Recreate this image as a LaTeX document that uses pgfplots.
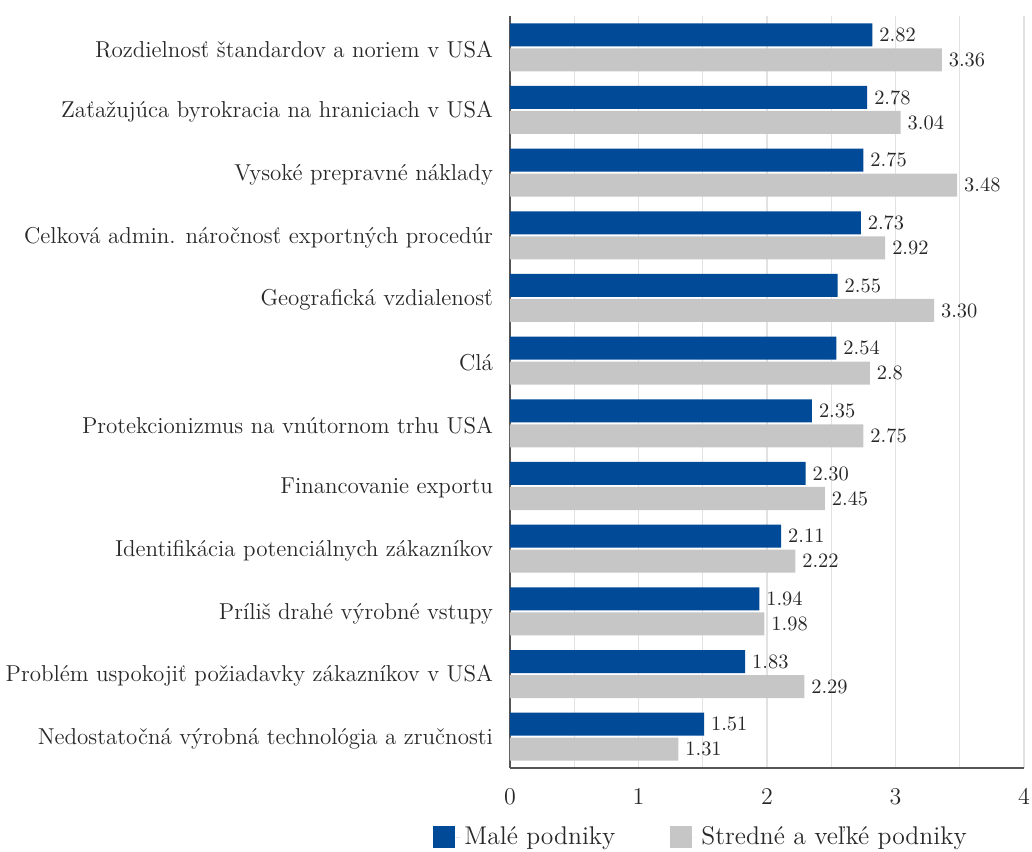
\documentclass[border=0pt]{standalone}
\usepackage{pgfplots}
\pgfplotsset{compat=1.18}
\definecolor{cblue}{RGB}{0,74,152}
\definecolor{cgray}{RGB}{198,198,198}
\definecolor{axgray}{RGB}{85,85,85}
\definecolor{gridc}{RGB}{226,226,226}
\definecolor{txt}{RGB}{40,40,40}
\pgfplotstableread{
x y lab
1.51 0 1.51
1.83 1 1.83
1.94 2 1.94
2.11 3 2.11
2.30 4 2.30
2.35 5 2.35
2.54 6 2.54
2.55 7 2.55
2.73 8 2.73
2.75 9 2.75
2.78 10 2.78
2.82 11 2.82
}\small
\pgfplotstableread{
x y lab
1.31 0 1.31
2.29 1 2.29
1.98 2 1.98
2.22 3 2.22
2.45 4 2.45
2.75 5 2.75
2.8 6 2.8
3.30 7 3.30
2.92 8 2.92
3.48 9 3.48
3.04 10 3.04
3.36 11 3.36
}\large
\begin{document}
\begin{tikzpicture}
\begin{axis}[
 name=ax,
 scale only axis,
 width=257pt, height=376pt,
 xmin=0, xmax=4, ymin=-0.5, ymax=11.5,
 enlargelimits=false,
 xbar,
 bar width=11.5pt,
 xtick={0,1,2,3,4},
 minor xtick={0.5,1.5,2.5,3.5},
 xmajorgrids, xminorgrids,
 major grid style={gridc, line width=0.7pt},
 minor grid style={gridc, line width=0.7pt},
 ytick={0,...,11},
 yticklabels={
  Nedostatočná výrobná technológia a zručnosti,
  Problém uspokojiť požiadavky zákazníkov v USA,
  Príliš drahé výrobné vstupy,
  Identifikácia potenciálnych zákazníkov,
  Financovanie exportu,
  Protekcionizmus na vnútornom trhu USA,
  Clá,
  Geografická vzdialenosť,
  Celková admin. náročnosť exportných procedúr,
  Vysoké prepravné náklady,
  Zaťažujúca byrokracia na hraniciach v USA,
  Rozdielnosť štandardov a noriem v USA},
 axis x line*=bottom, axis y line*=left,
 axis line style={axgray, line width=1pt, -},
 major tick length=0pt, minor tick length=0pt,
 tick style={draw=none},
 yticklabel style={font=\fontsize{11.5}{13}\selectfont, text=txt, xshift=-5pt, yshift=-1pt},
 xticklabel style={font=\fontsize{13}{14}\selectfont, text=txt, yshift=-7pt},
 nodes near coords, point meta=explicit symbolic,
 every node near coord/.append style={font=\fontsize{10.2}{11}\selectfont, text=txt, anchor=west, xshift=0pt},
 legend columns=2,
 legend style={draw=none, fill=none, at={(rel axis cs:-0.1498,-0.0918)}, anchor=west,
   font=\fontsize{12.8}{14}\selectfont, text=txt, inner sep=0pt,
   /tikz/every even column/.append style={column sep=25.5pt}},
 legend image code/.code={\fill[#1] (0pt,-5.5pt) rectangle (11pt,5.5pt); \path (11pt,0pt) -- (13.5pt,0pt);},
]
\addplot[fill=cblue, draw=none, bar shift=6.25pt] table[x=x, y=y, meta=lab]{\small};
\addplot[fill=cgray, draw=none, bar shift=-6.25pt] table[x=x, y=y, meta=lab]{\large};
\legend{Malé podniky, Stredné a veľké podniky}
\end{axis}
\pgfresetboundingbox
\path[use as bounding box] ([shift={(-255pt,-41.5pt)}]ax.south west) rectangle ([shift={(4pt,8pt)}]ax.north east);
\end{tikzpicture}
\end{document}
